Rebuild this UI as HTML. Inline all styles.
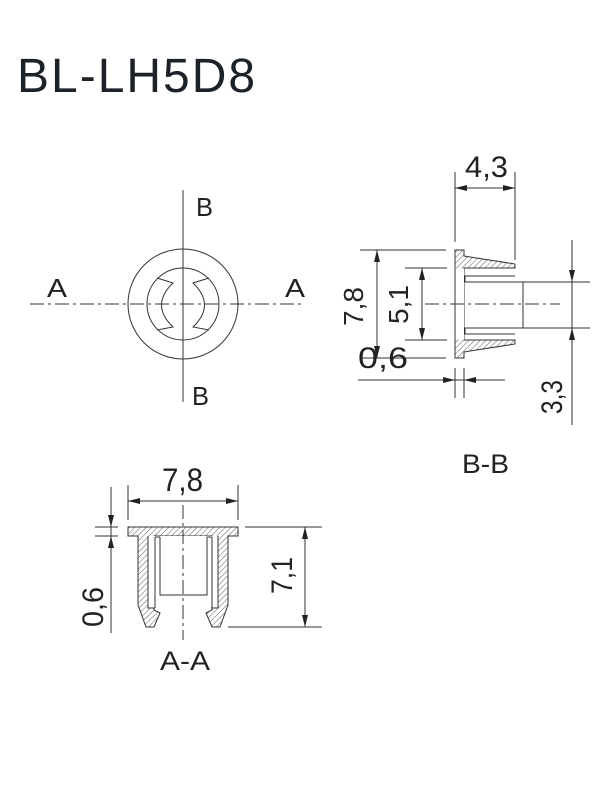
<!DOCTYPE html>
<html><head><meta charset="utf-8"><style>
html,body{margin:0;padding:0;background:#fff;}
svg{display:block;}
text{font-family:"Liberation Sans",sans-serif;fill:#222;}
</style></head><body>
<svg width="600" height="800" viewBox="0 0 600 800" xmlns="http://www.w3.org/2000/svg">
<defs>
<pattern id="h" patternUnits="userSpaceOnUse" width="4" height="4" patternTransform="rotate(45)">
<line x1="0" y1="0" x2="0" y2="4" stroke="#333" stroke-width="0.8"/>
</pattern>
</defs>
<text x="17" y="92" font-size="48" letter-spacing="2" style="fill:#1c2228">BL-LH5D8</text>

<g stroke="#333" stroke-width="1" fill="none">
<line x1="183" y1="190" x2="183" y2="402"/>
<line x1="30" y1="304" x2="305" y2="304" stroke-dasharray="14,4,3,4"/>
<circle cx="183" cy="304" r="55"/>
<circle cx="183" cy="304" r="36"/>
<path d="M157,278 L173,283 Q150,305 173,327 L157,330"/>
<path d="M209,278 L193,283 Q216,305 193,327 L209,330"/>
</g>
<text x="196" y="216" font-size="26" textLength="17" lengthAdjust="spacingAndGlyphs">B</text>
<text x="192" y="405" font-size="26" textLength="17" lengthAdjust="spacingAndGlyphs">B</text>
<text x="47" y="297" font-size="26" textLength="20" lengthAdjust="spacingAndGlyphs">A</text>
<text x="285" y="297" font-size="26" textLength="20" lengthAdjust="spacingAndGlyphs">A</text>

<g stroke="#333" stroke-width="1">
<path d="M455,250 L464,250 L464,256 L470,257 L515,264 L515,268 L464,268 L464,340 L515,340 L515,344 L470,351 L464,352 L464,358 L455,358 Z" fill="url(#h)"/>
<rect x="455.5" y="268.5" width="8.5" height="71" fill="#fff" stroke="none"/>
<line x1="455" y1="268" x2="455" y2="340"/>
<path d="M515,276 L465,276 L465,282 L590,282" fill="none"/>
<path d="M515,334 L465,334 L465,328 L590,328" fill="none"/>
<line x1="523" y1="282" x2="523" y2="328"/>
<line x1="425" y1="304" x2="560" y2="304" stroke-dasharray="14,4,3,4"/>
<line x1="455" y1="172" x2="455" y2="242"/>
<line x1="515" y1="172" x2="515" y2="260"/>
<line x1="455" y1="188" x2="515" y2="188"/>
<line x1="360" y1="250" x2="446" y2="250"/>
<line x1="360" y1="358" x2="446" y2="358"/>
<line x1="377" y1="250" x2="377" y2="358"/>
<line x1="405" y1="268" x2="447" y2="268"/>
<line x1="405" y1="340" x2="447" y2="340"/>
<line x1="422" y1="268" x2="422" y2="340"/>
<line x1="358" y1="380" x2="505" y2="380"/>
<line x1="455" y1="368" x2="455" y2="398"/>
<line x1="464" y1="368" x2="464" y2="398"/>
<line x1="572" y1="240" x2="572" y2="425"/>
<line x1="128" y1="485" x2="128" y2="520"/>
<line x1="238" y1="485" x2="238" y2="520"/>
<line x1="128" y1="501" x2="238" y2="501"/>
<line x1="245" y1="527" x2="322" y2="527"/>
<line x1="228" y1="627" x2="322" y2="627"/>
<line x1="305" y1="527" x2="305" y2="627"/>
<line x1="95" y1="527" x2="118" y2="527"/>
<line x1="95" y1="536" x2="118" y2="536"/>
<line x1="111" y1="487" x2="111" y2="633"/>
<path d="M128,527 L238,527 L238,536 L228,536 L228,605 L220,627 L212,627 L206,613 L212,610 L212,536 L154,536 L154,610 L160,613 L154,627 L146,627 L138,605 L138,536 L128,536 Z" fill="url(#h)"/>
<path d="M148,536 L218,536 L218,608 L148,608 Z" fill="#fff" stroke="none"/>
<path d="M148,536 L148,608 L155,608 M218,536 L218,608 L211,608" fill="none"/>
<path d="M155,537 L155,608 M160,537 L160,595 L207,595 L207,537 M212,537 L212,608 M155,537 L160,537 M207,537 L212,537" fill="none"/>
<line x1="183" y1="505" x2="183" y2="640" stroke-dasharray="14,4,3,4"/>
</g>
<g fill="#222">
<path d="M455,188 l12,-3 v6z M515,188 l-12,-3 v6z"/>
<path d="M377,250 l-3,12 h6z M377,358 l-3,-12 h6z"/>
<path d="M422,268 l-3,12 h6z M422,340 l-3,-12 h6z"/>
<path d="M455,380 l-12,-3 v6z M464,380 l12,-3 v6z"/>
<path d="M572,282 l-3,-12 h6z M572,328 l-3,12 h6z"/>
<path d="M128,501 l12,-3 v6z M238,501 l-12,-3 v6z"/>
<path d="M305,527 l-3,12 h6z M305,627 l-3,-12 h6z"/>
<path d="M111,527 l-3,-12 h6z M111,536 l-3,12 h6z"/>
</g>
<text x="465" y="177" font-size="30" textLength="43" lengthAdjust="spacingAndGlyphs">4,3</text>
<text transform="translate(363,326) rotate(-90)" font-size="28" textLength="39" lengthAdjust="spacingAndGlyphs">7,8</text>
<text transform="translate(408,324) rotate(-90)" font-size="28" textLength="39" lengthAdjust="spacingAndGlyphs">5,1</text>
<text x="358" y="368" font-size="30" textLength="50" lengthAdjust="spacingAndGlyphs">0,6</text>
<text transform="translate(562,414) rotate(-90)" font-size="30" textLength="34" lengthAdjust="spacingAndGlyphs">3,3</text>
<text x="462" y="473" font-size="27" textLength="47" lengthAdjust="spacingAndGlyphs">B-B</text>
<text x="162" y="491" font-size="32" textLength="41" lengthAdjust="spacingAndGlyphs">7,8</text>
<text transform="translate(292,594) rotate(-90)" font-size="30" textLength="37" lengthAdjust="spacingAndGlyphs">7,1</text>
<text transform="translate(103,627) rotate(-90)" font-size="30" textLength="40" lengthAdjust="spacingAndGlyphs">0,6</text>
<text x="160" y="670" font-size="27" textLength="50" lengthAdjust="spacingAndGlyphs">A-A</text>
</svg>
</body></html>
